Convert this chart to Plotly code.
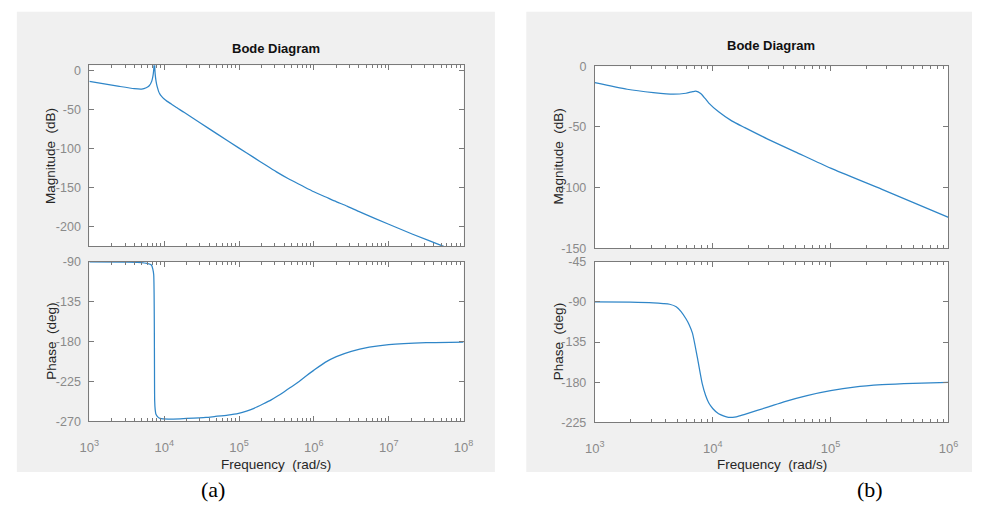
import plotly.graph_objects as go

# ---------------- data ----------------
# (a) magnitude: log10(frequency) and dB
a_mag_logf = [3.0, 3.2, 3.4, 3.6, 3.7, 3.76, 3.8, 3.834, 3.85, 3.858, 3.864, 3.868, 3.870,
              3.874, 3.88, 3.889, 3.899, 3.91, 3.925, 3.943, 3.96, 4.0, 4.04, 4.095, 4.15,
              4.27, 4.488, 4.706, 5.0, 5.2, 5.36, 5.5, 5.66, 5.83, 6.0, 6.15, 6.275, 6.45,
              6.62, 7.0, 7.32, 7.725, 8.0]
a_mag_db = [-14.0, -17.1, -20.4, -23.3, -23.8, -22.1, -19.6, -13.7, -7.0, -1.0, 6.0, 20.0, 20.0,
            4.0, -5.0, -12.5, -17.9, -22.0, -26.8, -30.3, -32.6, -36.6, -39.6, -43.0, -46.6,
            -53.9, -67.6, -81.2, -99.4, -111.6, -121.4, -129.8, -138.6, -147.0, -155.3,
            -161.6, -167.0, -174.0, -181.4, -196.8, -209.6, -224.8, -236.0]

# (a) phase: log10(frequency) and degrees
a_ph_logf = [3.0, 3.5, 3.7, 3.77, 3.829, 3.85, 3.86, 3.865, 3.868, 3.870, 3.873, 3.88, 3.89,
             3.92, 3.946, 4.056, 4.12, 4.3, 4.558, 4.67, 4.85, 4.994, 5.1, 5.2, 5.32, 5.43,
             5.52, 5.6, 5.69, 5.779, 5.9, 5.997, 6.15, 6.3, 6.5, 6.74, 7.0, 7.5, 8.0]
a_ph_deg = [-90.0, -90.3, -90.8, -91.8, -93.6, -99.0, -104.6, -125.0, -160.0, -200.0, -247.0,
            -257.0, -262.0, -265.5, -266.7, -267.5, -267.4, -266.8, -265.6, -264.6, -263.0,
            -261.0, -258.5, -255.3, -250.5, -245.8, -241.2, -236.8, -231.6, -226.5, -218.5,
            -212.5, -203.5, -197.0, -191.0, -186.3, -183.4, -181.2, -180.5]

# (b) magnitude
b_mag_logf = [3.0, 3.274, 3.496, 3.662, 3.773, 3.83, 3.856, 3.898, 3.935, 3.967, 4.05, 4.161,
              4.272, 4.466, 4.7, 5.0, 5.436, 6.0]
b_mag_db = [-13.5, -18.9, -21.6, -23.0, -22.2, -20.9, -20.5, -22.4, -26.5, -30.3, -37.5, -45.0,
            -50.6, -60.0, -70.5, -84.0, -101.5, -124.6]

# (b) phase
b_ph_logf = [3.0, 3.3, 3.496, 3.58, 3.634, 3.69, 3.73, 3.773, 3.8, 3.828, 3.87, 3.911, 3.94,
             3.967, 4.0, 4.05, 4.133, 4.2, 4.272, 4.466, 4.604, 4.8, 5.0, 5.2, 5.436, 5.7, 6.0]
b_ph_deg = [-90.0, -90.3, -91.0, -91.8, -92.6, -95.4, -100.5, -108.9, -115.5, -125.0, -152.5,
            -181.6, -195.0, -203.4, -209.5, -215.5, -219.5, -218.8, -216.0, -208.0, -202.0,
            -195.0, -189.5, -185.5, -182.8, -181.2, -180.3]

a_mag_ticks = [0, -50, -100, -150, -200]
a_ph_ticks = [-90, -135, -180, -225, -270]
b_mag_ticks = [0, -50, -100, -150]
b_ph_ticks = [-45, -90, -135, -180, -225]
a_decades = [3, 4, 5, 6, 7, 8]
b_decades = [3, 4, 5, 6]

# ---------------- layout helpers ----------------
W, H = 982, 511
FONT = "Liberation Sans, Arial"
LINE = "#2f86c8"
AXC = "#7a7a7a"
TICKC = "#8a8a8a"
LABC = "#262626"
BG = "#f0f0f0"


def px(x):
    return x / W


def py(y):
    return 1 - y / H


def to_f(logs):
    return [10 ** v for v in logs]


fig = go.Figure()

traces = [
    (a_mag_logf, a_mag_db, "x", "y"),
    (a_ph_logf, a_ph_deg, "x2", "y2"),
    (b_mag_logf, b_mag_db, "x3", "y3"),
    (b_ph_logf, b_ph_deg, "x4", "y4"),
]
for lf, vals, xa, ya in traces:
    fig.add_trace(go.Scatter(x=to_f(lf), y=vals, xaxis=xa, yaxis=ya, mode="lines",
                             line=dict(color=LINE, width=1.25, shape="spline", smoothing=0.6),
                             showlegend=False, hoverinfo="skip", cliponaxis=True))


def minor_vals(decs):
    out = []
    for d in decs[:-1]:
        for m in range(2, 10):
            out.append(m * 10 ** d)
    return out


def xaxis_cfg(domain, decs, anchor, labels):
    cfg = dict(domain=domain, type="log", range=[decs[0], decs[-1]], anchor=anchor,
               showgrid=False, zeroline=False, showline=True, linecolor=AXC, linewidth=1,
               mirror="ticks", ticks="inside", ticklen=5, tickcolor=AXC,
               tickmode="array", tickvals=[10 ** d for d in decs],
               showticklabels=labels,
               minor=dict(ticks="inside", ticklen=3, tickcolor=AXC, tickmode="array",
                          tickvals=minor_vals(decs), showgrid=False))
    if labels:
        cfg.update(ticktext=[f"10<sup>{d}</sup>" for d in decs], ticklabelstandoff=14,
                   tickfont=dict(family=FONT, size=13, color=TICKC))
    return cfg


def yaxis_cfg(domain, rng, ticks, anchor):
    return dict(domain=domain, range=rng, anchor=anchor, showgrid=False, zeroline=False,
                showline=True, linecolor=AXC, linewidth=1, mirror="ticks", ticks="inside",
                ticklen=5, tickcolor=AXC, tickmode="array", tickvals=ticks,
                ticktext=[str(t) for t in ticks], ticklabelstandoff=5,
                tickfont=dict(family=FONT, size=12.5, color=TICKC))


fig.update_layout(
    width=W, height=H, margin=dict(l=0, r=0, t=0, b=0),
    paper_bgcolor="white", plot_bgcolor="white",
    xaxis=xaxis_cfg([px(81), px(463)], a_decades, "y", False),
    yaxis=yaxis_cfg([py(246), py(60)], [-225.0, 6.5], a_mag_ticks, "x"),
    xaxis2=xaxis_cfg([px(81), px(463)], a_decades, "y2", True),
    yaxis2=yaxis_cfg([py(426), py(262)], [-270, -90], a_ph_ticks, "x2"),
    xaxis3=xaxis_cfg([px(597), px(958)], b_decades, "y3", False),
    yaxis3=yaxis_cfg([py(248), py(61)], [-150, 0], b_mag_ticks, "x3"),
    xaxis4=xaxis_cfg([px(597), px(958)], b_decades, "y4", True),
    yaxis4=yaxis_cfg([py(427), py(262)], [-225, -45], b_ph_ticks, "x4"),
)

# grey figure panels, then white plot areas on top of them
for x0, x1 in [(7, 495), (527, 982)]:
    fig.add_shape(type="rect", xref="paper", yref="paper", x0=px(x0), x1=px(x1),
                  y0=py(478), y1=py(5), fillcolor=BG, line=dict(width=0), layer="below")
for x0, x1, y0, y1 in [(81, 463, 246, 60), (81, 463, 426, 262),
                       (597, 958, 248, 61), (597, 958, 427, 262)]:
    fig.add_shape(type="rect", xref="paper", yref="paper", x0=px(x0), x1=px(x1),
                  y0=py(y0), y1=py(y1), fillcolor="white", line=dict(width=0), layer="below")


def ann(text, x, y, size=13.5, angle=0, color=LABC, family=FONT, bold=False):
    fig.add_annotation(text=f"<b>{text}</b>" if bold else text, xref="paper", yref="paper",
                       x=px(x), y=py(y), xanchor="center", yanchor="middle",
                       showarrow=False, textangle=angle,
                       font=dict(family=family, size=size, color=color))


ann("Bode Diagram", 272, 43, size=13, color="#111111", bold=True)
ann("Bode Diagram", 777, 40, size=13, color="#111111", bold=True)
ann("Magnitude  (dB)", 42, 153, angle=-90)
ann("Phase  (deg)", 42, 344, angle=-90)
ann("Magnitude  (dB)", 560, 154, angle=-90)
ann("Phase  (deg)", 560, 344, angle=-90)
ann("Frequency  (rad/s)", 272, 470)
ann("Frequency  (rad/s)", 778, 470)
ann("(a)", 207, 496, size=22, color="#000000", family="Liberation Serif, Times New Roman")
ann("(b)", 878, 496, size=22, color="#000000", family="Liberation Serif, Times New Roman")

fig.write_html("out.html")
